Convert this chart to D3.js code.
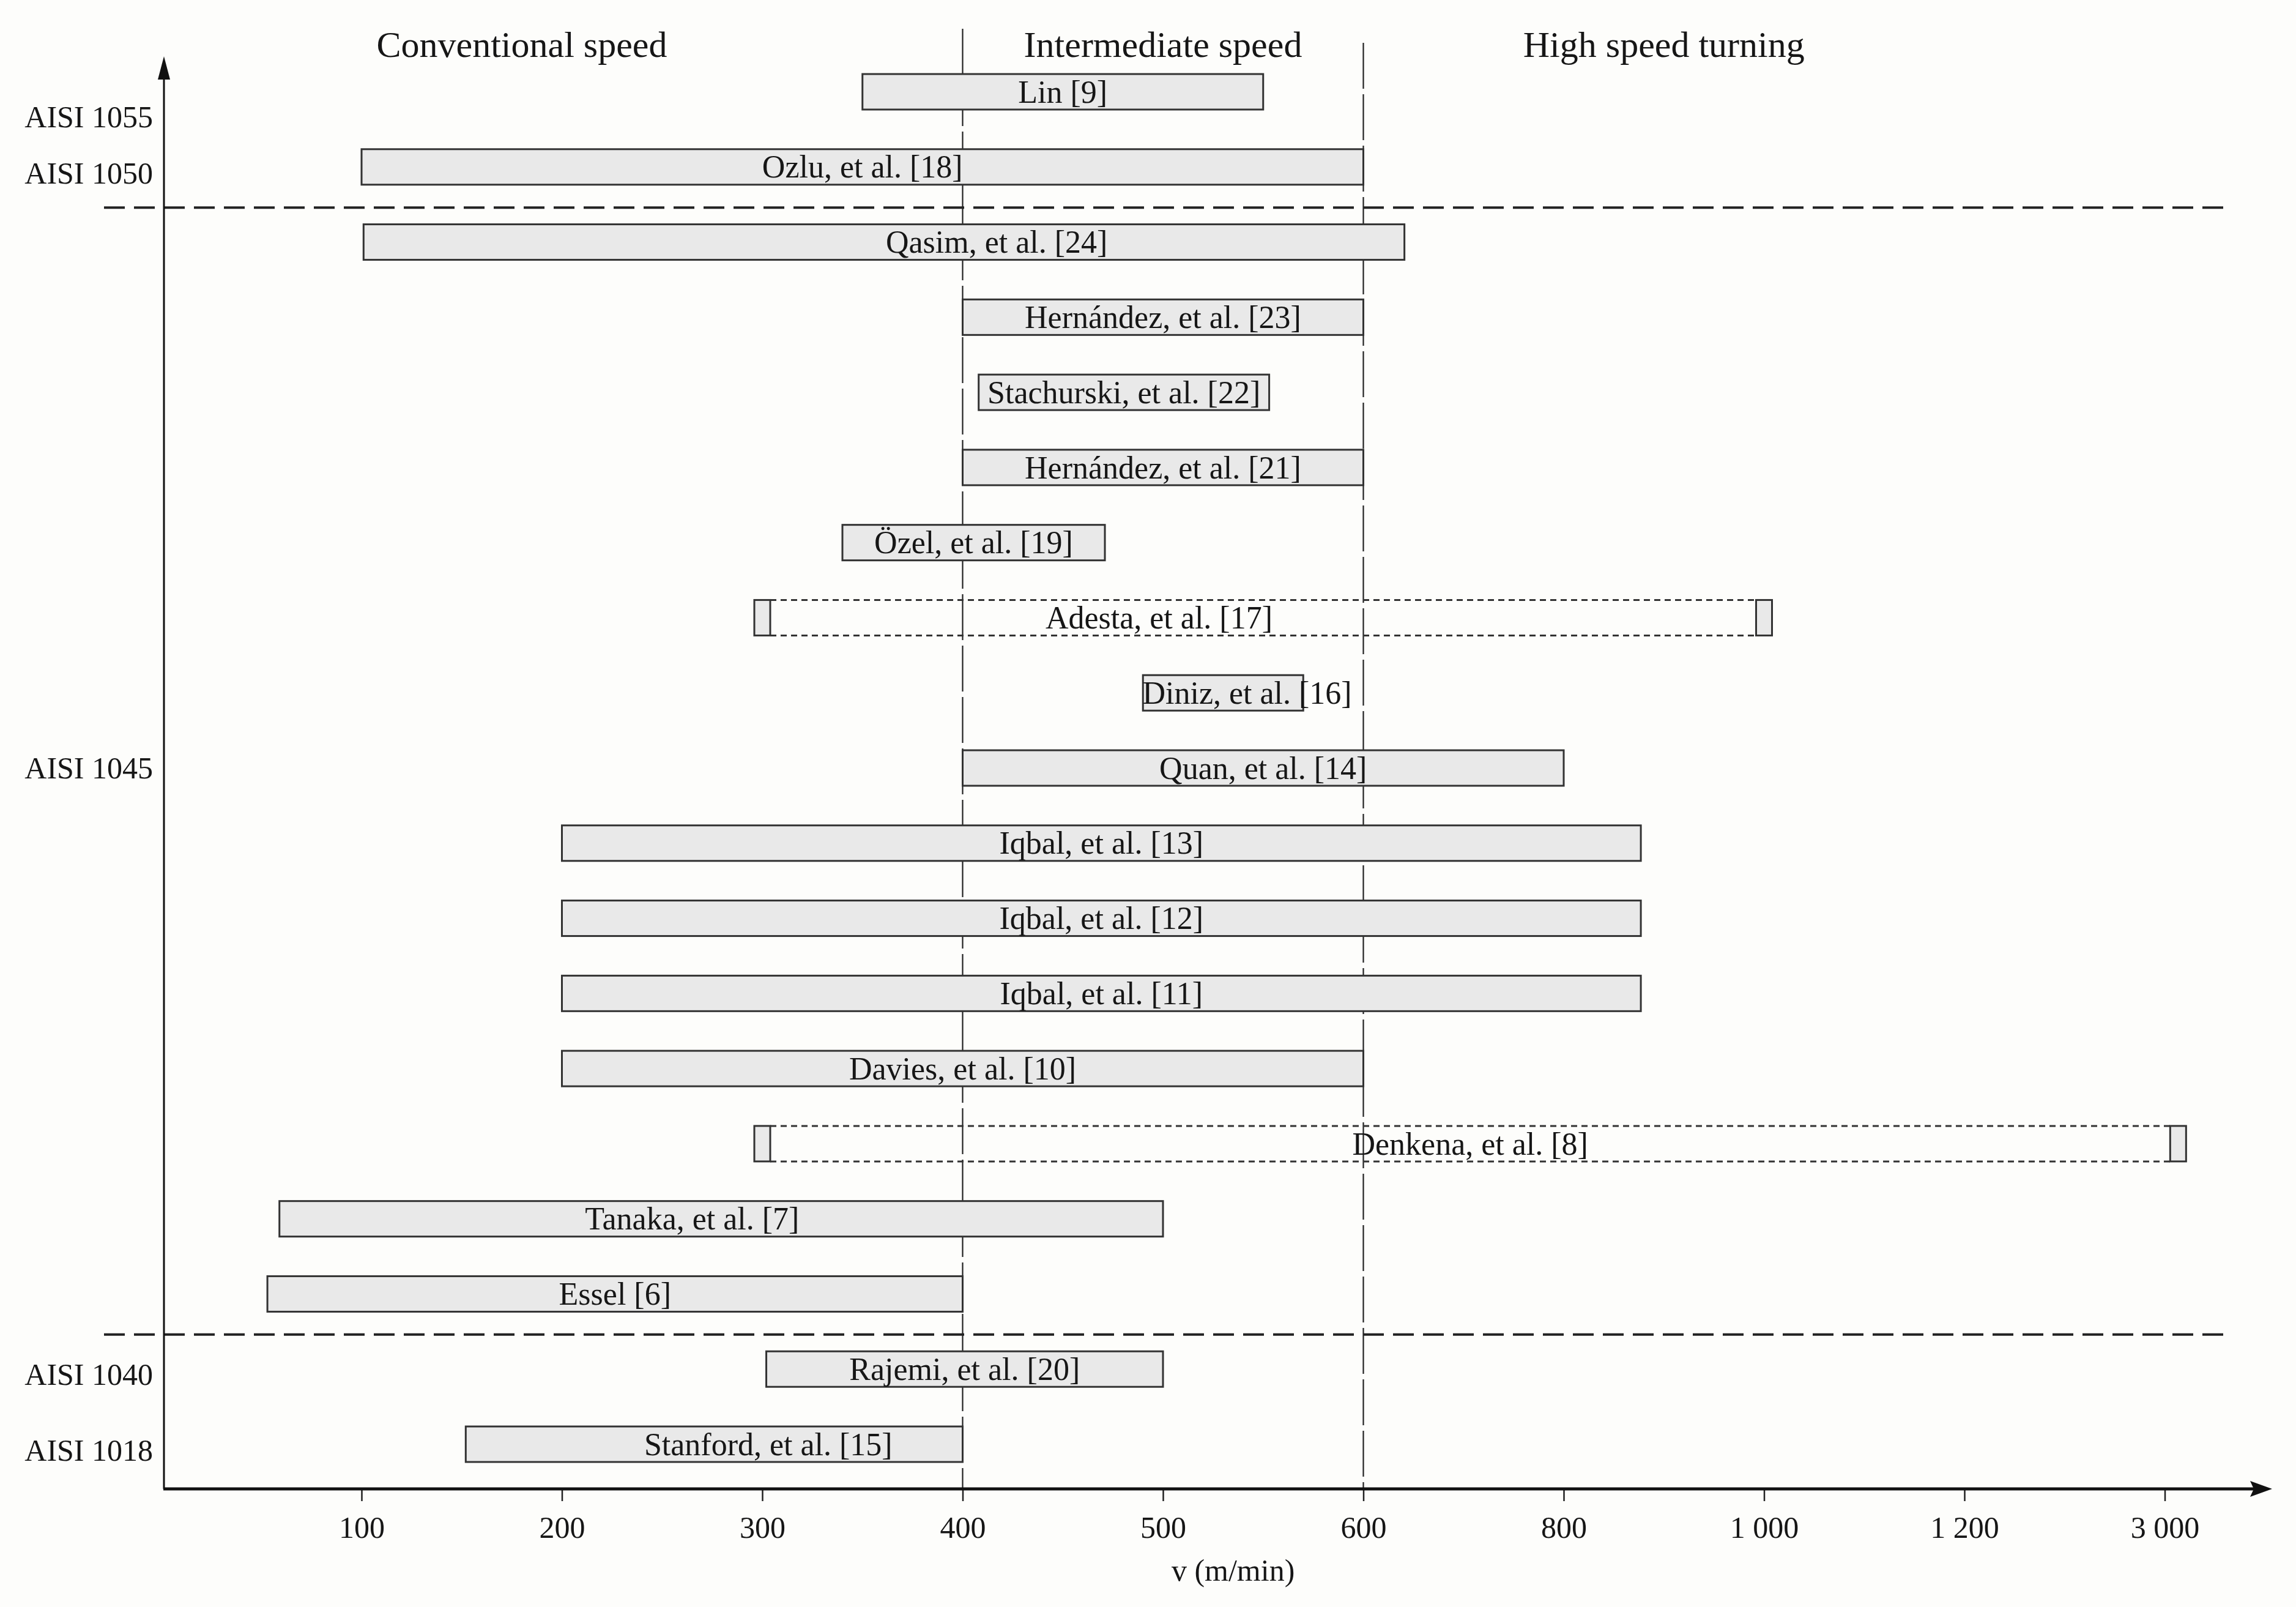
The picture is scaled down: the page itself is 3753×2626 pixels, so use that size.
<!DOCTYPE html>
<html>
<head>
<meta charset="utf-8">
<script src="https://cdn.jsdelivr.net/npm/d3@7"></script>
<style>
  html, body { margin: 0; padding: 0; background: #fdfdfb; }
  svg { display: block; }
  text { font-family: "Liberation Serif", "DejaVu Serif", serif; fill: #161616; }
</style>
</head>
<body>
<svg id="chart" width="3753" height="2626"></svg>
<script>
// ---------------- data ----------------
const studies = ["Lin [9]", "Ozlu, et al. [18]", "Qasim, et al. [24]", "Hernández, et al. [23]",
  "Stachurski, et al. [22]", "Hernández, et al. [21]", "Özel, et al. [19]", "Adesta, et al. [17]",
  "Diniz, et al. [16]", "Quan, et al. [14]", "Iqbal, et al. [13]", "Iqbal, et al. [12]",
  "Iqbal, et al. [11]", "Davies, et al. [10]", "Denkena, et al. [8]", "Tanaka, et al. [7]",
  "Essel [6]", "Rajemi, et al. [20]", "Stanford, et al. [15]"];
const speedMin = [350, 100, 101, 400, 408, 400, 340, 300, 490, 400, 200, 200, 200, 200, 300, 59, 53, 302, 152];
const speedMax = [550, 600, 641, 600, 553, 600, 471, 1000, 570, 800, 877, 877, 877, 600, 3120, 500, 400, 500, 400];
// studies whose range is drawn as an open (dashed) interval
const openRange = [false, false, false, false, false, false, false, true, false, false, false, false, false, false, true, false, false, false, false];
// speed at which the label is centred (null = centre of bar)
const labelAt = [null, null, 417, null, null, null, null, 498, 542, null, null, null, null, null, null, 265, null, null, 303];

const materials = ["AISI 1055", "AISI 1050", "AISI 1045", "AISI 1040", "AISI 1018"];
const materialRow = [0.33, 1.08, 9, 17.07, 18.08];   // position in row units
const groupBreaks = [1.5, 16.5];                     // separators between steel grades (row units)

const axisBreaks = [0, 100, 200, 300, 400, 500, 600, 800, 1000, 1200, 3000];
const tickValues = [100, 200, 300, 400, 500, 600, 800, 1000, 1200, 3000];
const tickLabels = ["100", "200", "300", "400", "500", "600", "800", "1 000", "1 200", "3 000"];

const regionNames = ["Conventional speed", "Intermediate speed", "High speed turning"];
const regionLabelAt = [180, 500, 900];
const regionBounds = [400, 600];

// ---------------- layout ----------------
const x0 = 263.5, step = 327.5;
const axisY = 2433, yAxisX = 268, yTop = 92, xArrowTip = 3714;
const barH = 58;

const svg = d3.select("#chart");
svg.append("rect").attr("width", 3753).attr("height", 2626).attr("fill", "#fdfdfb");

const x = d3.scaleLinear().domain(axisBreaks).range(axisBreaks.map((d, i) => x0 + i * step));
const y = d3.scalePoint().domain(studies).range([150, 2360]);
const yRow = d3.scaleLinear().domain([0, studies.length - 1]).range([150, 2360]);

// region boundary lines (vertical, dashed)
svg.selectAll("line.region").data(regionBounds).join("line")
  .attr("class", "region")
  .attr("x1", d => x(d)).attr("x2", d => x(d))
  .attr("y1", (d, i) => i === 0 ? 47 : 70).attr("y2", axisY)
  .attr("stroke", "#222").attr("stroke-width", 2.2)
  .attr("stroke-dasharray", "75,9");

// region titles
svg.selectAll("text.region").data(regionNames).join("text")
  .attr("class", "region")
  .attr("x", (d, i) => x(regionLabelAt[i])).attr("y", 93)
  .attr("text-anchor", "middle").attr("font-size", 60)
  .text(d => d);

// group separators (horizontal dashed)
svg.selectAll("line.sep").data(groupBreaks).join("line")
  .attr("class", "sep")
  .attr("x1", 170).attr("x2", 3640)
  .attr("y1", d => yRow(d) + 5).attr("y2", d => yRow(d) + 5)
  .attr("stroke", "#222").attr("stroke-width", 4)
  .attr("stroke-dasharray", "34,15");

// bars
const rows = studies.map((s, i) => ({ name: s, a: speedMin[i], b: speedMax[i], open: openRange[i], lab: labelAt[i] }));
const g = svg.selectAll("g.bar").data(rows).join("g").attr("class", "bar");

g.filter(d => !d.open).append("rect")
  .attr("x", d => x(d.a)).attr("width", d => x(d.b) - x(d.a))
  .attr("y", d => y(d.name) - barH / 2).attr("height", barH)
  .attr("fill", "#e9e9e9").attr("stroke", "#333").attr("stroke-width", 3);

const capW = 26;
const og = g.filter(d => d.open);
og.selectAll("line.edge").data(d => [d, d].map((r, k) => ({ r, k }))).join("line")
  .attr("class", "edge")
  .attr("x1", e => x(e.r.a) + capW / 2).attr("x2", e => x(e.r.b) - capW / 2)
  .attr("y1", e => y(e.r.name) + (e.k ? barH / 2 : -barH / 2))
  .attr("y2", e => y(e.r.name) + (e.k ? barH / 2 : -barH / 2))
  .attr("stroke", "#333").attr("stroke-width", 3).attr("stroke-dasharray", "10,7");
og.selectAll("rect.cap").data(d => [d.a, d.b].map(v => ({ v, name: d.name }))).join("rect")
  .attr("class", "cap")
  .attr("x", c => x(c.v) - capW / 2).attr("width", capW)
  .attr("y", c => y(c.name) - barH / 2).attr("height", barH)
  .attr("fill", "#e9e9e9").attr("stroke", "#333").attr("stroke-width", 3);

g.append("text")
  .attr("x", d => d.lab == null ? (x(d.a) + x(d.b)) / 2 : x(d.lab))
  .attr("y", d => y(d.name)).attr("dy", "0.34em")
  .attr("text-anchor", "middle").attr("font-size", 52)
  .text(d => d.name);

// material labels
svg.selectAll("text.mat").data(materials).join("text")
  .attr("class", "mat")
  .attr("x", 250).attr("y", (d, i) => yRow(materialRow[i])).attr("dy", "0.34em")
  .attr("text-anchor", "end").attr("font-size", 50)
  .text(d => d);

// x axis
const xAxis = d3.axisBottom(x).tickValues(tickValues)
  .tickFormat((d, i) => tickLabels[i]).tickSizeInner(20).tickSizeOuter(0);
const ax = svg.append("g").attr("transform", `translate(0,${axisY})`).call(xAxis);
ax.select(".domain").remove();
ax.selectAll(".tick line").attr("stroke", "#222").attr("stroke-width", 2.5);
ax.selectAll(".tick text").attr("y", 80).attr("dy", null)
  .attr("font-size", 50).attr("font-family", "Liberation Serif, serif").attr("fill", "#161616");

// axis lines with arrows
svg.append("line").attr("x1", yAxisX - 1).attr("x2", xArrowTip - 20)
  .attr("y1", axisY).attr("y2", axisY).attr("stroke", "#111").attr("stroke-width", 5);
svg.append("path")
  .attr("d", `M${xArrowTip},${axisY} L${xArrowTip - 36},${axisY - 13} L${xArrowTip - 30},${axisY} L${xArrowTip - 36},${axisY + 13} Z`)
  .attr("fill", "#111");
svg.append("line").attr("x1", yAxisX).attr("x2", yAxisX)
  .attr("y1", axisY).attr("y2", yTop + 20).attr("stroke", "#111").attr("stroke-width", 3);
svg.append("path")
  .attr("d", `M${yAxisX},${yTop} L${yAxisX - 10},${yTop + 38} L${yAxisX + 10},${yTop + 38} Z`)
  .attr("fill", "#111");

// axis title
svg.append("text").attr("x", x(535)).attr("y", 2583)
  .attr("text-anchor", "middle").attr("font-size", 50)
  .text("v (m/min)");
</script>
</body>
</html>
